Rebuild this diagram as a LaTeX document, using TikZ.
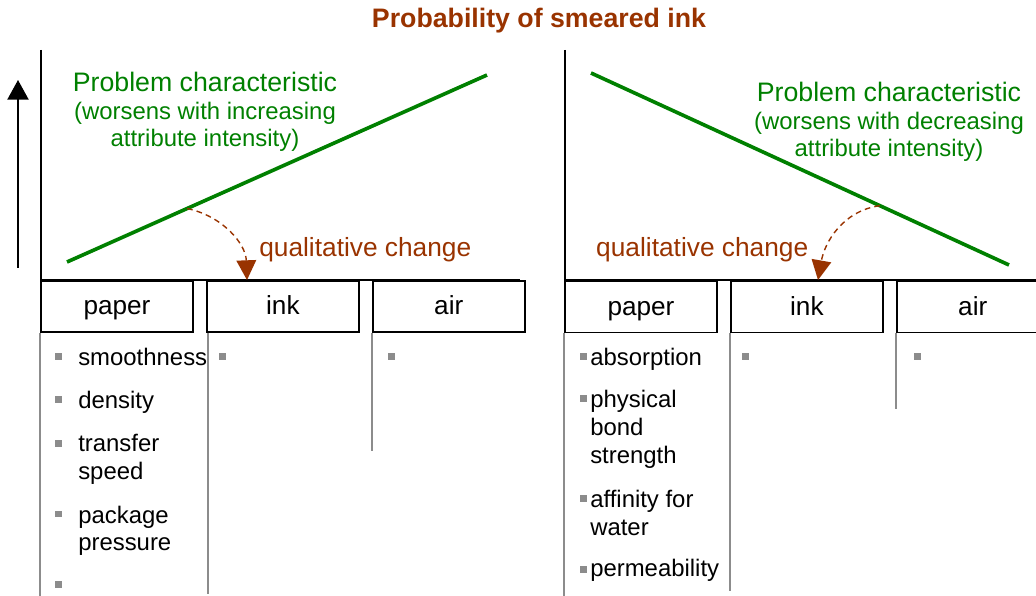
\documentclass[tikz,border=0pt]{standalone}
\usepackage{fontspec}
\setmainfont{Liberation Sans}
\usetikzlibrary{arrows.meta,positioning}
\definecolor{smbrown}{HTML}{993300}
\definecolor{smgreen}{HTML}{008000}
\definecolor{smgray}{HTML}{8C8C8C}

\tikzset{
  attrbox/.style={draw=black, line width=1.3pt, minimum width=3.8cm, minimum height=1.275cm,
    inner sep=0pt, font=\fontsize{18.6}{20}\selectfont, text height=15pt, text depth=3.5pt},
  item/.style={anchor=base west, align=left, inner sep=0pt, font=\fontsize{17}{19.7}\selectfont},
  sq/.style={fill=smgray, inner sep=0pt, minimum size=0.17cm},
  colline/.style={draw=smgray, line width=1.1pt},
  axis/.style={draw=black, line width=1.4pt},
  trend/.style={smgreen, line width=2.6pt},
  change/.style={smbrown, dash pattern=on 4pt off 3pt, line width=1pt,
    -{Triangle[length=14pt,width=14pt]}},
  note/.style={font=\fontsize{18.7}{19.6}\selectfont, inner sep=0pt},
  charac/.style={font=\fontsize{17}{19.5}\selectfont, inner sep=0pt, align=center, text=smgreen, anchor=base},
}
\newcommand{\headline}[1]{{\fontsize{19}{19.5}\selectfont #1}}

\begin{document}
\begin{tikzpicture}[x=0.025cm, y=-0.025cm, node distance=0.3cm]
  \useasboundingbox (0,0) rectangle (1036,596);

  % Title
  \node[note, anchor=base, text=smbrown, font=\fontsize{19}{20}\selectfont\bfseries] (title) at (539,28)
    {Probability of smeared ink};

  % Upward arrow
  \draw[line width=1.4pt, -{Triangle[length=14pt,width=15pt]}] (18,268) -- (18,80);

  % ---- left panel: worsens with increasing intensity
  \draw[axis] (41,50) -- (41,280) -- (520,280);
  \node[attrbox] (paperL) at (117,306.5) {paper};
  \node[attrbox, right=of paperL] (inkL) {ink};
  \node[attrbox, right=of inkL] (airL) {air};

  \draw[trend] (67,262) -- coordinate[pos=0.286] (bendL) (487,75);
  \node[charac] (probL) at (205,146.7)
    {\headline{Problem characteristic}\\(worsens with increasing\\attribute intensity)};
  \node[note, anchor=base west, text=smbrown] (qualL) at (259,257) {qualitative change};
  \coordinate (tipL) at (247,280);
  \draw[change] (bendL) to[out=-12, in=92] (tipL);

  % Columns below the boxes
  \draw[colline] (paperL.south west) -- ++(0,263);
  \draw[colline] ([xshift=0.05cm]inkL.south west) -- ++(0,261);
  \draw[colline] (airL.south west) -- ++(0,118);
  % text / bullet y / last baseline
  \foreach \txt/\b/\y [count=\i] in {smoothness/356.7/365.5, density/399.5/408.3,
      {transfer\\speed}/443.3/479, {package\\pressure}/514/550.7, {}/584.3/593}{
    \node[sq] (bL\i) at (58.5,\b) {};
    \node[item] (tL\i) at (78,\y) {\txt};
  }
  \node[sq] (bInkL) at (222.5,356.7) {};
  \node[sq] (bAirL) at (391.5,356.7) {};

  % ---- right panel: worsens with decreasing intensity
  \draw[axis] (565,50) -- (565,280) -- (1036,280);
  \node[attrbox] (paperR) at (641,307) {paper};
  \node[attrbox, right=of paperR] (inkR) {ink};
  \node[attrbox, right=of inkR] (airR) {air};

  \draw[trend] (591,73) -- coordinate[pos=0.691] (bendR) (1009,265);
  \node[charac] (probR) at (889,156.7)
    {\headline{Problem characteristic}\\(worsens with decreasing\\attribute intensity)};
  \node[note, anchor=base east, text=smbrown] (qualR) at (808.5,257) {qualitative change};
  \coordinate (tipR) at (818,280);
  \draw[change] (bendR) to[out=188, in=80] (tipR);

  \draw[colline] (paperR.south west) -- ++(0,263);
  \draw[colline] (inkR.south west) -- ++(0,258);
  \draw[colline] (airR.south west) -- ++(0,76);
  \foreach \txt/\b/\y [count=\i] in {absorption/356.7/365, {physical\\bond\\strength}/398.3/463.3,
      {affinity for\\water}/498.3/535, permeability/569.3/576.7}{
    \node[sq] (bR\i) at (583.3,\b) {};
    \node[item] (tR\i) at (590,\y) {\txt};
  }
  \node[sq] (bInkR) at (745.7,356.7) {};
  \node[sq] (bAirR) at (917.7,356.7) {};
\end{tikzpicture}
\end{document}
